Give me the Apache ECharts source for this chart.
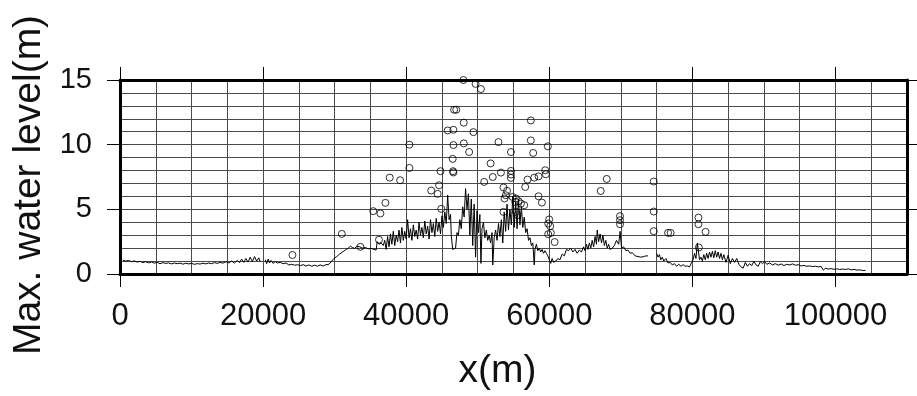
<!DOCTYPE html>
<html>
<head>
<meta charset="utf-8">
<style>
  html, body { margin: 0; padding: 0; background: #fff; }
  #chart { width: 917px; height: 396px; }
</style>
<script src="https://cdn.jsdelivr.net/npm/echarts@6/dist/echarts.min.js"></script>
</head>
<body>
<div id="chart"></div>
<script>
// ---- data ----
const xTickValues = [0, 20000, 40000, 60000, 80000, 100000];
const yTickValues = [0, 5, 10, 15];

// simulated maximum water level along the coast (line) [x(m), level(m)], null = gap
const profileWest = [
  [400,1.08],[800,1.0],[1200,1.05],[1600,0.95],[2000,1.02],[2400,0.92],[2800,0.98],[3200,0.88],
  [3600,0.95],[4000,0.86],[4400,0.93],[4800,0.84],[5200,0.9],[5600,0.8],[6000,0.88],[6400,0.82],
  [6800,0.86],[7200,0.78],[7600,0.85],[8000,0.8],[8400,0.84],[8800,0.76],[9200,0.83],[9600,0.78],
  [10000,0.82],[10400,0.75],[10800,0.8],[11200,0.77],[11600,0.84],[12000,0.78],[12400,0.85],[12800,0.8],
  [13200,0.88],[13600,0.82],[14000,0.9],[14400,0.84],[14800,0.95],[15200,0.86],[15600,1.0],[16000,0.85],
  [16400,1.05],[16700,0.88],[17000,1.15],[17300,0.9],[17600,1.2],[17900,0.92],[18200,1.3],[18500,0.95],
  [18800,1.35],[19100,1.0],[19400,1.25],[19600,0.95],[19900,null],
  [20300,1.1],[20500,0.8],[20700,1.15],[20900,0.85],[21100,1.05],[21400,0.82],[21700,0.95],[22000,0.85],
  [22400,0.9],[22800,0.8],[23200,0.85],[23600,0.7],[24000,0.75],[24400,0.68],[24800,0.72],[25200,0.65],
  [25600,0.72],[26000,0.62],[26400,0.7],[26800,0.6],[27200,0.68],[27600,0.6],[28000,0.7],[28400,0.62],
  [28800,0.72],[29200,0.75],[29600,1.0],[29900,1.2],[30300,1.35],[30700,1.55],[31100,1.7],[31500,1.85],
  [31900,2.0],[32200,2.15],[32500,2.05],[32800,1.98],[33100,2.15],[33500,2.1],[33900,2.0],[34300,2.05],
  [34700,1.95],[35100,1.98],[35500,1.9],[35800,1.85],[35950,2.5],[36200,2.3],[36500,2.4],[36800,2.2]
];
const profileCentral = [
  [37000,2.6],[37200,1.9],[37400,2.9],[37600,2.1],[37800,3.1],[38000,2.3],[38200,3.3],[38400,2.2],
  [38600,3.0],[38800,2.5],[39000,3.4],[39200,2.4],[39400,3.6],[39600,2.6],[39800,3.3],[40000,2.7],
  [40200,4.2],[40400,2.8],[40600,3.5],[40800,2.6],[41000,3.8],[41200,2.9],[41400,3.4],[41600,2.7],
  [41800,4.0],[42000,3.0],[42200,3.6],[42400,2.8],[42600,4.1],[42800,3.1],[43000,3.7],[43200,2.7],
  [43400,4.2],[43600,3.2],[43800,3.9],[44000,2.9],[44200,4.3],[44400,3.3],[44600,4.0],[44800,3.1],
  [45000,4.5],[45200,3.6],[45400,4.8],[45600,3.9],[45800,6.1],[46000,4.2],[46200,4.6],[46300,3.0],
  [46500,1.9],[46700,1.75],[46900,2.0],[47100,3.2],[47300,3.0],[47500,4.2],[47700,3.5],[47900,5.2],
  [48100,4.4],[48300,6.6],[48500,5.0],[48700,6.2],[48900,3.0],[49100,5.8],[49300,2.2],[49500,5.4],
  [49700,1.3],[49900,4.9],[50100,3.2],[50300,4.6],[50450,0.82],[50600,3.5],[50800,4.0],[51000,2.8],
  [51200,3.4],[51400,2.6],[51600,3.0],[51800,2.4],[52000,3.2],[52100,0.7],[52300,2.8],[52500,3.4],
  [52700,2.6],[52900,3.9],[53100,2.9],[53300,4.2],[53500,2.4],[53700,4.8],[53900,3.3],[54100,5.4],
  [54300,3.4],[54500,5.0],[54700,3.8],[54900,6.0],[55100,3.6],[55300,5.6],[55500,3.5],[55700,5.8],
  [55900,3.8],[56100,5.2],[56300,3.6],[56500,4.4],[56700,3.2],[56900,3.5],[57100,2.6],[57300,2.8],
  [57500,2.2],[57700,2.4],[57900,0.7],[58000,1.9],[58200,2.3],[58400,1.8],[58600,2.0],[58800,1.7],
  [59000,1.9],[59200,1.6],[59400,1.8],[59600,1.6],[59800,1.4],[60000,1.3],[60200,0.82],[60400,1.2],
  [60600,0.9],[60900,1.0],[61200,1.2],[61500,1.1],[61800,1.55],[62100,1.4],[62400,1.9],[62700,1.8],
  [63000,2.0],[63300,1.7],[63600,1.9],[63900,1.6],[64200,1.85],[64500,1.7],[64800,2.1],[65000,1.8],
  [65200,2.3],[65400,1.9],[65600,2.4],[65800,2.0],[66000,2.6],[66200,2.1],[66400,2.9],[66600,2.3],
  [66700,3.4],[66900,2.5],[67100,3.1],[67300,2.4],[67500,3.0],[67700,2.2],[67900,2.6],[68100,2.0],
  [68300,2.3],[68500,1.9],[68800,2.0],[69100,2.2],[69400,2.6],[69700,2.3],[69900,3.3],[70100,2.0],
  [70400,2.1],[70700,1.8],[71000,1.85],[71300,1.6],[71600,1.65],[72000,1.4],[72400,1.35],[72800,1.3],
  [73200,1.35],[73500,1.4],[73800,1.4],[74400,null]
];
const profileEast = [
  [75000,1.6],[75200,1.3],[75400,1.5],[75600,1.1],[75800,1.3],[76000,1.0],[76300,1.2],[76600,0.85],
  [76900,0.9],[77200,0.7],[77500,0.8],[77800,0.6],[78100,0.75],[78400,0.6],[78700,0.72],[79000,0.6],
  [79300,0.62],[79600,0.55],[79900,0.9],[80100,1.1],[80300,1.6],[80500,1.2],[80700,2.4],[80900,2.5],
  [81000,1.1],[81200,1.3],[81400,1.0],[81600,1.5],[81800,1.1],[82000,1.6],[82200,1.2],[82400,1.7],
  [82600,1.3],[82800,1.75],[83000,1.25],[83200,1.8],[83400,1.3],[83600,1.7],[83800,1.2],[84000,1.6],
  [84200,1.1],[84400,1.5],[84700,0.9],[85000,1.45],[85300,0.8],[85600,1.2],[85900,0.9],[86200,1.2],
  [86500,0.75],[86800,0.55],[87100,0.45],[87400,0.9],[87700,0.6],[88000,0.8],[88300,0.65],[88600,0.98],
  [88900,0.7],[89200,0.6],[89500,0.95],[89800,0.8],[90100,0.95],[90400,0.75],[90800,0.85],[91200,0.7],
  [91600,0.8],[92000,0.68],[92400,0.78],[92800,0.65],[93200,0.75],[93600,0.7],[94000,0.78],[94400,0.68],
  [94800,0.72],[95200,0.62],[95600,0.66],[96000,0.6],[96400,0.62],[96800,0.58],[97200,0.6],[97600,0.55],
  [98000,0.58],[98300,0.3],[98600,0.45],[99000,0.38],[99400,0.42],[99800,0.36],[100200,0.4],[100600,0.35],
  [101000,0.38],[101400,0.35],[101800,0.4],[102200,0.32],[102600,0.36],[103000,0.3],[103400,0.32],[103800,0.27],
  [104200,0.28]
];

// observed maximum water levels (circles)
const obsX = [24100,31000,33600,35400,36200,36400,37100,37700,39150,40450,40450,43500,44400,44600,44800,44900,
  45800,46500,46550,46600,46600,46600,46700,47000,48000,48050,48050,48800,49400,49700,50450,50900,
  51800,52100,52900,53240,53600,53600,53750,53920,54100,54640,54640,54640,54640,54870,55250,55340,
  55340,55570,55700,56040,56500,56640,56960,57420,57420,57750,57900,58500,58500,58970,59430,59520,
  59800,59850,59850,59990,60130,60220,60750,67190,68030,69890,69890,69890,74600,74600,74600,76600,
  76960,80850,80850,81840,80900];
const obsY = [1.47,3.1,2.1,4.86,2.65,4.68,5.5,7.45,7.25,10.0,8.2,6.45,6.2,6.86,7.95,5.04,
  11.1,8.9,7.95,7.85,9.97,11.15,12.7,12.7,15.0,11.7,10.1,9.43,10.97,14.7,14.3,7.12,
  8.55,7.5,10.2,7.84,6.69,4.8,5.84,6.09,6.43,9.43,7.97,7.69,7.43,5.96,5.57,5.84,
  4.8,4.55,5.62,5.45,5.32,6.73,7.3,11.87,10.33,9.36,7.45,7.55,6.01,5.52,8.02,7.71,
  9.87,3.9,3.08,4.22,3.7,3.18,2.47,6.42,7.35,4.47,4.16,3.85,7.15,4.83,3.31,3.18,
  3.18,4.36,3.85,3.26,2.05];

// ---- chart ----
const toLine = arr => arr.map(p => [p[0], p[1] === null ? '-' : p[1]]);
const profileData = toLine(profileWest).concat(toLine(profileCentral), toLine(profileEast));
const obsData = obsX.map((x, i) => [x, obsY[i]]);

const FONT = '"Liberation Sans", Arial, Helvetica, sans-serif';
const gridLine = { show: true, lineStyle: { color: '#4a4a4a', width: 1 } };
const frameLine = { show: true, onZero: false, lineStyle: { color: '#000', width: 3 } };
const tickOut = (vals) => ({ show: true, inside: false, length: 13, customValues: vals, lineStyle: { color: '#000', width: 1 } });
const plain = v => String(v);

const chart = echarts.init(document.getElementById('chart'), null, { renderer: 'canvas' });
chart.setOption({
  animation: false,
  backgroundColor: '#fff',
  grid: { left: 120, right: 10, top: 80, bottom: 122, containLabel: false },
  xAxis: [
    { type: 'value', min: 0, max: 110000, interval: 5000, position: 'bottom',
      axisLine: { show: false, onZero: false }, axisTick: { show: false }, axisLabel: { show: false },
      splitLine: gridLine },
    { type: 'value', min: 0, max: 110000, position: 'bottom',
      axisLine: frameLine, axisTick: tickOut(xTickValues),
      axisLabel: { show: true, customValues: xTickValues, formatter: plain, fontSize: 31, color: '#111', fontFamily: FONT, margin: 27 },
      splitLine: { show: false },
      name: 'x(m)', nameLocation: 'middle', nameGap: 78,
      nameTextStyle: { fontSize: 39, color: '#111', fontFamily: FONT, padding: [0, 32, 0, 0] } },
    { type: 'value', min: 0, max: 110000, position: 'top',
      axisLine: frameLine, axisTick: tickOut(xTickValues),
      axisLabel: { show: false }, splitLine: { show: false } }
  ],
  yAxis: [
    { type: 'value', min: 0, max: 15, interval: 1, position: 'left',
      axisLine: { show: false, onZero: false }, axisTick: { show: false }, axisLabel: { show: false },
      splitLine: gridLine },
    { type: 'value', min: 0, max: 15, interval: 5, position: 'left',
      axisLine: frameLine, axisTick: tickOut(yTickValues),
      axisLabel: { show: true, customValues: yTickValues, formatter: plain, fontSize: 29, color: '#111', fontFamily: FONT, margin: 28 },
      splitLine: { show: false },
      name: 'Max. water level(m)', nameLocation: 'middle', nameGap: 58,
      nameTextStyle: { fontSize: 39, color: '#111', fontFamily: FONT, padding: [0, 16, 0, 0] } },
    { type: 'value', min: 0, max: 15, interval: 5, position: 'right',
      axisLine: frameLine, axisTick: tickOut(yTickValues),
      axisLabel: { show: false }, splitLine: { show: false } }
  ],
  series: [
    { type: 'line', name: 'simulated', xAxisIndex: 1, yAxisIndex: 1, data: profileData,
      showSymbol: false, connectNulls: false, lineStyle: { color: '#000', width: 1 }, z: 3 },
    { type: 'scatter', name: 'observed', xAxisIndex: 1, yAxisIndex: 1, data: obsData,
      symbol: 'circle', symbolSize: 7,
      itemStyle: { color: 'rgba(0,0,0,0)', borderColor: '#000', borderWidth: 1 }, z: 4 }
  ]
});
</script>
</body>
</html>
